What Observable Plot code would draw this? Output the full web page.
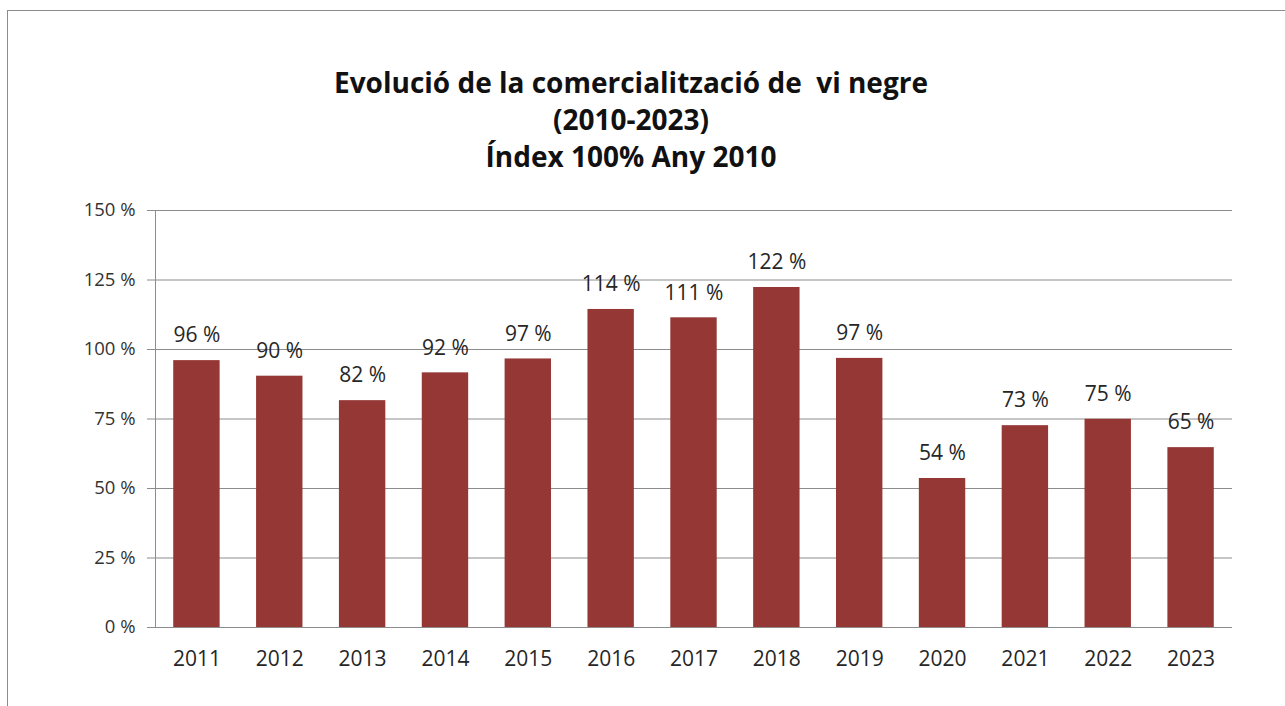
<!DOCTYPE html>
<html>
<head>
<meta charset="utf-8">
<script src="https://cdn.jsdelivr.net/npm/d3@7"></script>
<script src="https://cdn.jsdelivr.net/npm/@observablehq/plot@0.6"></script>
<style>
  html, body { margin: 0; padding: 0; background: #fff; overflow: hidden; }
  body { width: 1285px; height: 706px; position: relative; font-family: "Open Sans", "Noto Sans", sans-serif; }
  #frame { position: absolute; left: 7px; top: 10px; width: 1300px; height: 720px; border: 1px solid #8c8c8c; box-sizing: border-box; }
  #title { position: absolute; left: 0; width: 1262px; top: 64px; text-align: center; font-weight: 700; font-size: 28px; line-height: 37px; color: #111; letter-spacing: 0px; }
  #chart { position: absolute; left: 0; top: 0; }
</style>
</head>
<body>
<div id="frame"></div>
<div id="title">Evolució de la comercialització de&nbsp; vi negre<br>(2010-2023)<br>Índex 100% Any 2010</div>
<div id="chart"></div>
<script>
const years = ["2011","2012","2013","2014","2015","2016","2017","2018","2019","2020","2021","2022","2023"];
const values = [96.0, 90.4, 81.6, 91.6, 96.6, 114.4, 111.4, 122.3, 96.8, 53.6, 72.6, 74.9, 64.7];
const yTicks = [0, 25, 50, 75, 100, 125, 150];

const data = years.map((y, i) => ({year: y, value: values[i]}));

const chart = Plot.plot({
  width: 1285,
  height: 706,
  marginLeft: 155,
  marginRight: 53,
  marginTop: 210,
  marginBottom: 79,
  style: {fontFamily: "'Open Sans', 'Noto Sans', sans-serif", background: "transparent", overflow: "visible"},
  x: {domain: years, paddingInner: 0.44, paddingOuter: 0.22, round: false, label: null},
  y: {domain: [0, 150], label: null},
  marks: [
    Plot.gridY(yTicks, {stroke: "#8c8c8c", strokeOpacity: 1, strokeWidth: 1}),
    Plot.axisY(yTicks, {tickSize: 8, tickPadding: 12, stroke: "#8c8c8c", tickFormat: d => d + " %", fontSize: 18.5, fill: "#333", label: null}),
    Plot.frame({anchor: "left", stroke: "#8c8c8c"}),
    Plot.barY(data, {x: "year", y: "value", fill: "#953735"}),
    Plot.ruleY([0], {stroke: "#8c8c8c"}),
    Plot.axisX({tickSize: 0, tickPadding: 24, fontSize: 21, fill: "#262626", label: null}),
    Plot.text(data, {x: "year", y: "value", text: d => Math.round(d.value) + " %", dy: -25, fontSize: 21, fill: "#262626"})
  ]
});
document.getElementById("chart").appendChild(chart);
</script>
</body>
</html>
